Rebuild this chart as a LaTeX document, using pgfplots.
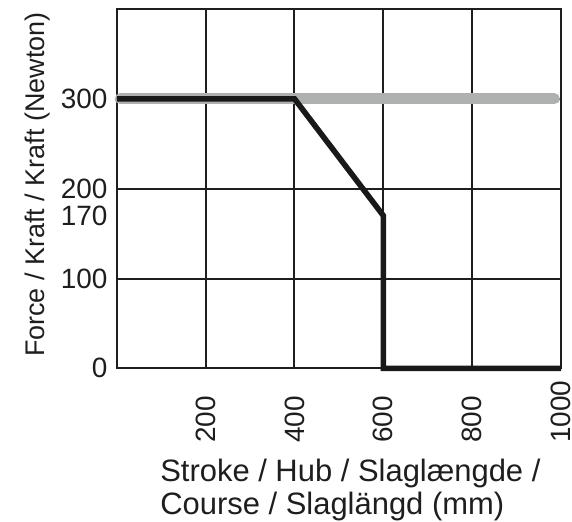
\documentclass[border=0pt]{standalone}
\usepackage{fontspec}
\setmainfont{Liberation Sans}
\usepackage{pgfplots}
\pgfplotsset{compat=1.18}
\definecolor{gridc}{RGB}{30,30,30}
\definecolor{lgray}{RGB}{175,177,176}
\definecolor{blk}{RGB}{25,25,25}
\begin{document}
\begin{tikzpicture}
\begin{axis}[
  name=ax,
  scale only axis,
  width=222.5pt, height=180pt,
  xmin=0, xmax=1000, ymin=0, ymax=400,
  xtick={200,400,600,800,1000},
  ytick={0,100,200,300,400},
  yticklabels={0,100,200,300,},
  extra y ticks={170},
  extra y tick style={grid=none},
  grid=major,
  major grid style={draw=gridc, line width=1pt},
  axis line style={draw=gridc, line width=1pt},
  major tick length=0pt,
  tick style={draw=none},
  font=\fontsize{14}{16}\selectfont,
  /pgf/number format/assume math mode=true,
  /pgf/number format/1000 sep={},
  ticklabel style={text=gridc},
  xticklabel style={yshift=-37.5pt, rotate=90, anchor=west, inner sep=0pt},
  yticklabel style={inner sep=0pt, xshift=-4.5pt},
  xlabel={Stroke / Hub / Slaglængde /\\Course / Slaglängd (mm)},
  xlabel style={at={(axis description cs:0.097,-0.252)}, anchor=north west, align=left, text=gridc, font=\fontsize{15.5}{16.5}\selectfont, inner sep=0pt},
  ylabel={Force / Kraft / Kraft (Newton)},
  ylabel style={at={(axis description cs:-0.179,0.511)}, anchor=center, rotate=0, text=gridc, font=\fontsize{13.5}{15}\selectfont},
  clip=false,
]
\addplot[draw=lgray, line width=5.5pt, line cap=round] coordinates {(8,300) (985,300)};
\addplot[draw=blk, line width=2.8pt, line join=miter] coordinates {(0,300) (400,300) (600,170) (600,0) (1000,0)};
\end{axis}
\path ([shift={(-58.5pt,-76pt)}]ax.south west) rectangle ([shift={(5.5pt,4.5pt)}]ax.north east);
\end{tikzpicture}
\end{document}
